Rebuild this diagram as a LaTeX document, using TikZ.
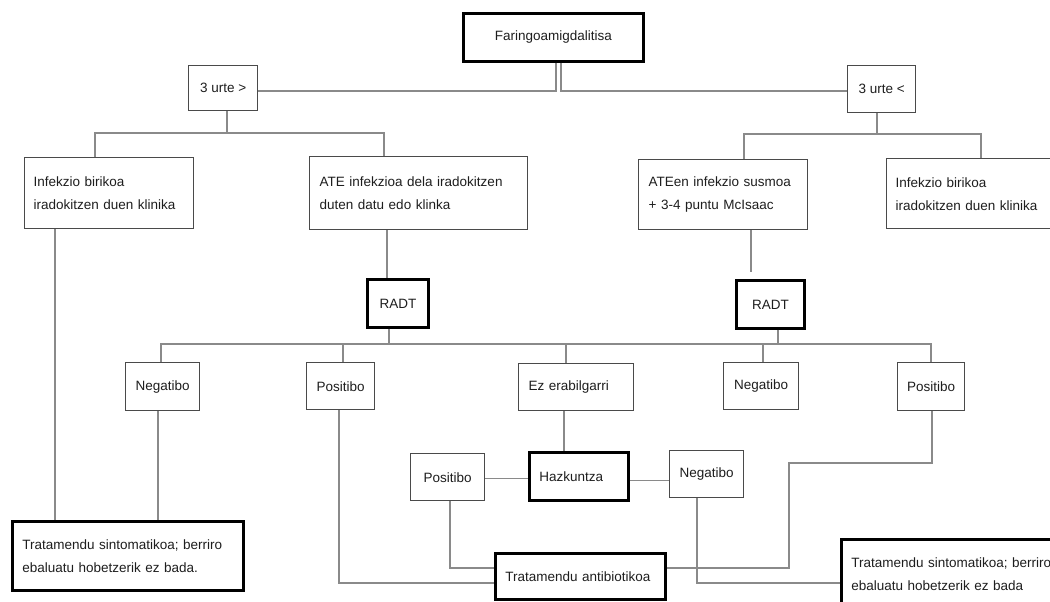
\documentclass[tikz,border=0pt]{standalone}
\usepackage{fontspec}
\setmainfont{Liberation Sans}
\definecolor{linec}{HTML}{8A8A8A}
\definecolor{boxc}{HTML}{4A4A4A}
\definecolor{textc}{HTML}{1E1E1E}
\begin{document}
\begin{tikzpicture}[x=1pt,y=-1pt,
  bx/.style={draw=boxc, line width=1.4pt, fill=white, anchor=north west,
    inner ysep=0pt, text=textc, font=\fontsize{13.5}{23}\selectfont},
  tb/.style={bx, draw=black, line width=2.8pt},
  ctr/.style={align=center, inner xsep=2pt},
  lft/.style={align=left, inner xsep=10pt, text width=#1},
  conn/.style={draw=linec, line width=1.2pt}]
\useasboundingbox (0,0) rectangle (1050,602);
\fill[white] (0,0) rectangle (1050,602);
\clip (0,0) rectangle (1050,602);

% boxes
\node[tb, ctr, minimum width=180, minimum height=48] (faring) at (462,12) {Faringoamigdalitisa};
\node[bx, ctr, minimum width=69, minimum height=45] (urteG) at (188,65) {3 urte >};
\node[bx, ctr, minimum width=68, minimum height=47] (urteL) at (847,65) {3 urte <};
\node[bx, lft=151, inner xsep=9pt, minimum width=169, minimum height=71] (infL) at (24,157) {Infekzio birikoa\\iradokitzen duen klinika};
\node[bx, lft=198, minimum width=218, minimum height=73] (ate) at (309,156) {ATE infekzioa dela iradokitzen\\duten datu edo klinka};
\node[bx, lft=149, minimum width=169, minimum height=70] (ateen) at (638,159) {ATEen infekzio susmoa\\+ 3-4 puntu McIsaac};
\node[bx, lft=156, inner xsep=9pt, minimum width=174, minimum height=70] (infR) at (886,158) {Infekzio birikoa\\iradokitzen duen klinika};
\node[tb, ctr, minimum width=61, minimum height=48] (radtL) at (366,278) {RADT};
\node[tb, ctr, minimum width=68, minimum height=48] (radtR) at (735,279) {RADT};
\node[bx, ctr, minimum width=74, minimum height=48] (negL) at (125,362) {Negatibo};
\node[bx, ctr, minimum width=68, minimum height=47] (pos1) at (306,362) {Positibo};
\node[bx, lft=95, minimum width=115, minimum height=47] (ez) at (518,363) {Ez erabilgarri};
\node[bx, ctr, minimum width=75, minimum height=47] (negR) at (723,362) {Negatibo};
\node[bx, ctr, minimum width=67, minimum height=48] (posR) at (897,362) {Positibo};
\node[bx, ctr, minimum width=74, minimum height=47] (pos2) at (410,453) {Positibo};
\node[tb, lft=79, minimum width=99, minimum height=48] (hazk) at (528,451) {Hazkuntza};
\node[bx, ctr, minimum width=74, minimum height=47] (neg2) at (669,450) {Negatibo};
\node[tb, lft=150, minimum width=170, minimum height=46] (tratA) at (494,552) {Tratamendu antibiotikoa};
\node[tb, lft=211, minimum width=231, minimum height=69] (tratL) at (11,520) {Tratamendu sintomatikoa; berriro\\ebaluatu hobetzerik ez bada.};
\node[tb, lft=220, minimum width=240, minimum height=69] (tratR) at (840,538) {Tratamendu sintomatikoa; berriro\\ebaluatu hobetzerik ez bada};

% junction coordinates
\coordinate (fG) at (556,91);
\coordinate (fL) at (561,91);
\coordinate (jG) at (227,133);
\coordinate (jGl) at (95,133);
\coordinate (jGr) at (384,133);
\coordinate (jL) at (877,134);
\coordinate (jLl) at (744,134);
\coordinate (jLr) at (981,134);
\coordinate (xInfL) at (55,0);
\coordinate (xAte) at (387,0);
\coordinate (ateEnd) at (751,272);
\coordinate (rL) at (389,344);
\coordinate (rR) at (778,344);
\coordinate (h1) at (161,344);
\coordinate (h2) at (343,344);
\coordinate (h3) at (566,344);
\coordinate (h4) at (763,344);
\coordinate (h5) at (931,344);
\coordinate (xNegL) at (158,0);
\coordinate (p1c) at (339,583);
\coordinate (xEz) at (564,0);
\coordinate (p2c) at (450,568);
\coordinate (tA1) at (789,568);
\coordinate (tA2) at (789,463);
\coordinate (tA3) at (932,463);
\coordinate (n2c) at (697,583);

% connectors
\draw[conn] (faring.south -| fG) -- (fG) -- (urteG.east |- fG);
\draw[conn] (faring.south -| fL) -- (fL) -- (urteL.west |- fL);
\draw[conn] (urteG.south -| jG) -- (jG);
\draw[conn] (infL.north -| jGl) -- (jGl) -- (jGr) -- (ate.north -| jGr);
\draw[conn] (urteL.south -| jL) -- (jL);
\draw[conn] (ateen.north -| jLl) -- (jLl) -- (jLr) -- (infR.north -| jLr);
\draw[conn] (infL.south -| xInfL) -- (tratL.north -| xInfL);
\draw[conn] (ate.south -| xAte) -- (radtL.north -| xAte);
\draw[conn] (ateen.south -| ateEnd) -- (ateEnd);
\draw[conn] (radtL.south -| rL) -- (rL);
\draw[conn] (radtR.south -| rR) -- (rR);
\draw[conn] (negL.north -| h1) -- (h1) -- (h5) -- (posR.north -| h5);
\draw[conn] (h2) -- (pos1.north -| h2);
\draw[conn] (h3) -- (ez.north -| h3);
\draw[conn] (h4) -- (negR.north -| h4);
\draw[conn] (negL.south -| xNegL) -- (tratL.north -| xNegL);
\draw[conn] (pos1.south -| p1c) -- (p1c) -- (tratA.west |- p1c);
\draw[conn] (ez.south -| xEz) -- (hazk.north -| xEz);
\draw[conn] ([yshift=-1.5]pos2.east) -- ([yshift=-1.5]hazk.west |- pos2.east);
\draw[conn] ([yshift=-4]hazk.east) -- ([yshift=-4]neg2.west |- hazk.east);
\draw[conn] (pos2.south -| p2c) -- (p2c) -- (tratA.west |- p2c);
\draw[conn] (tratA.east |- tA1) -- (tA1) -- (tA2) -- (tA3) -- (posR.south -| tA3);
\draw[conn] (neg2.south -| n2c) -- (n2c) -- (tratR.west |- n2c);
\end{tikzpicture}
\end{document}
